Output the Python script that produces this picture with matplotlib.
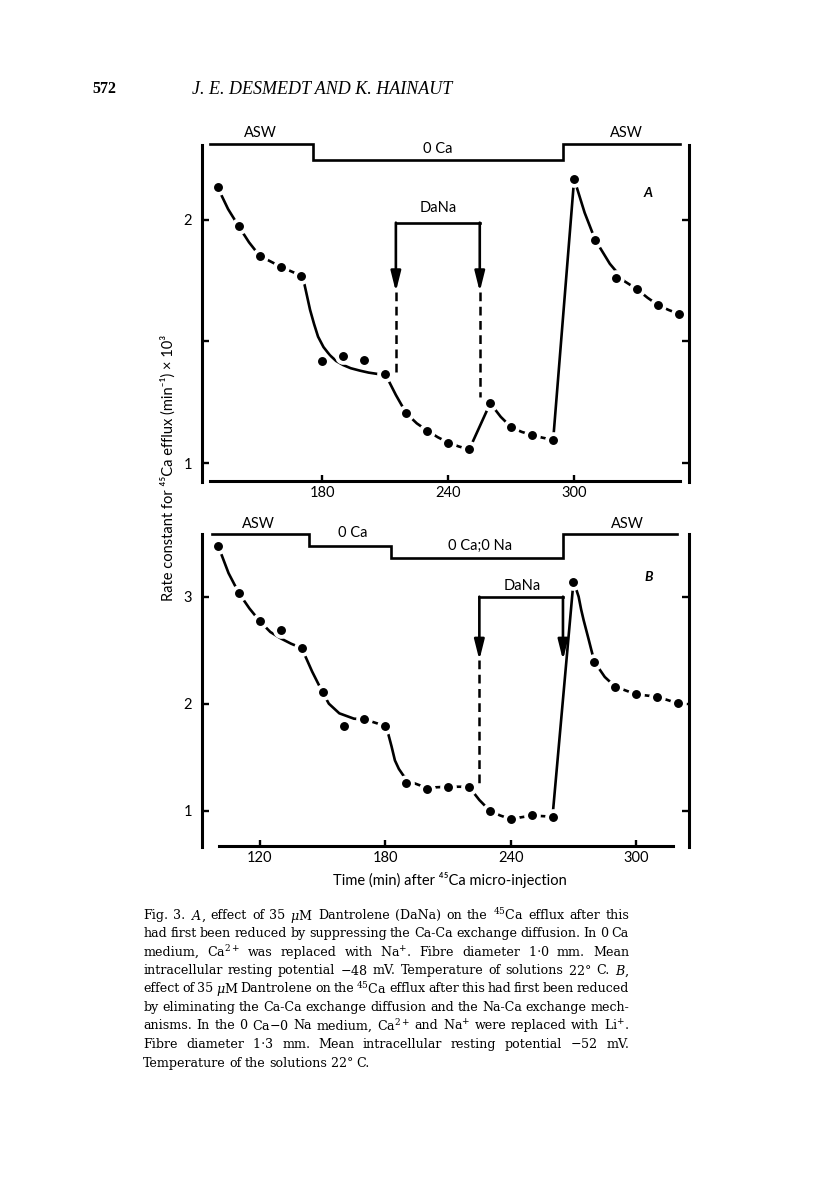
import matplotlib
matplotlib.use("Agg")
import matplotlib.pyplot as plt
from matplotlib import font_manager

plt.rcParams['font.family'] = ['Lato', 'DejaVu Sans']
plt.rcParams['mathtext.fontset'] = 'dejavuserif'

# ---------------- data : panel A ----------------
time_A = [130, 140, 150, 160, 170, 180, 190, 200, 210, 220, 230, 240, 250,
          260, 270, 280, 290, 300, 310, 320, 330, 340, 350]
rate_A = [2.135, 1.975, 1.853, 1.808, 1.770, 1.421, 1.442, 1.424, 1.365,
          1.204, 1.133, 1.084, 1.056, 1.246, 1.147, 1.115, 1.095, 2.169,
          1.919, 1.763, 1.715, 1.650, 1.613]
fit_time_A = [130, 135, 140, 145, 150, 160, 170, 171.3, 172.7, 174.1, 176,
              177.9, 180.5, 183.5, 186.5, 189.9, 193.5, 197.9, 202, 206.6,
              210, 215, 220, 225, 230, 235, 240, 245, 250, 260, 265, 270,
              275, 280, 285, 290, 300, 305, 310, 317, 324, 330, 335, 340,
              345, 350]
fit_rate_A = [2.135, 2.045, 1.975, 1.908, 1.853, 1.808, 1.770, 1.74, 1.685,
              1.63, 1.572, 1.52, 1.477, 1.444, 1.42, 1.403, 1.39, 1.38,
              1.372, 1.366, 1.365, 1.28, 1.204, 1.163, 1.133, 1.106, 1.084,
              1.068, 1.056, 1.246, 1.19, 1.147, 1.128, 1.115, 1.104, 1.095,
              2.169, 2.03, 1.919, 1.82, 1.748, 1.715, 1.68, 1.650, 1.63, 1.613]
protocol_time_A = [126.5, 175.5, 175.5, 294.7, 294.7, 350.4]
protocol_level_A = [2.313, 2.313, 2.247, 2.247, 2.313, 2.313]
dana_A = [215, 255]

# ---------------- data : panel B ----------------
time_B = [100, 110, 120, 130, 140, 150, 160, 170, 180, 190, 200, 210, 220,
          230, 240, 250, 260, 270, 280, 290, 300, 310, 320]
rate_B = [3.477, 3.032, 2.77, 2.692, 2.52, 2.106, 1.794, 1.854, 1.792,
          1.256, 1.20, 1.224, 1.224, 1.00, 0.922, 0.96, 0.944, 3.135,
          2.393, 2.159, 2.088, 2.065, 2.004]
fit_time_B = [100, 105, 110, 115, 120, 125, 130, 135, 140, 145, 150, 153,
              158, 165, 170, 180, 181.3, 183, 184.6, 186.5, 188.6, 191,
              193.4, 198.2, 200, 210, 220, 225, 230, 235, 240, 250, 260,
              270, 271.5, 272.5, 273.7, 274.9, 276.1, 277.3, 280, 285, 290,
              300, 310, 320]
fit_rate_B = [3.477, 3.22, 3.032, 2.89, 2.77, 2.67, 2.61, 2.56, 2.52, 2.3,
              2.106, 2.0, 1.91, 1.86, 1.854, 1.792, 1.726, 1.6, 1.47, 1.39,
              1.33, 1.29, 1.26, 1.225, 1.215, 1.224, 1.224, 1.1, 1.0, 0.955,
              0.922, 0.955, 0.944, 3.135, 3.06, 3.0, 2.88, 2.78, 2.69, 2.6,
              2.393, 2.25, 2.159, 2.088, 2.065, 2.004]
protocol_time_B = [96.9, 143.6, 143.6, 182.9, 182.9, 265, 265, 319.5]
protocol_level_B = [3.583, 3.583, 3.474, 3.474, 3.364, 3.364, 3.583, 3.583]
dana_B = [225, 265]

xticks_A = [180, 240, 300]
xticks_B = [120, 180, 240, 300]
yticks_A = [1, 1.5, 2]
yticklabels_A = ['1', '', '2']
yticks_B = [1, 2, 3]
yticklabels_B = ['1', '2', '3']

W, H = 816, 1192
fig = plt.figure(figsize=(W / 100, H / 100), dpi=100)
fig.patch.set_facecolor('white')


def px_axes(left, top, right, bottom):
    return fig.add_axes([left / W, 1 - bottom / H, (right - left) / W,
                         (bottom - top) / H])


LW = 1.9


def panel(ax, t, r, ft, fr, pt, pl, xlim, ylim, spine_lo, spine_hi,
          base, base_lo, base_hi, xt, yt, ytl):
    ax.set_xlim(*xlim)
    ax.set_ylim(*ylim)
    ax.patch.set_alpha(0)
    ax.plot(ft, fr, color='k', lw=LW, solid_capstyle='butt',
            solid_joinstyle='round', zorder=2)
    ax.plot(t, r, 'o', ms=12, mfc='white', mec='none', zorder=3)
    ax.plot(t, r, 'o', ms=5.4, mfc='k', mec='k', zorder=4)
    ax.plot(pt, pl, color='k', lw=LW, solid_joinstyle='miter', zorder=2)
    ax.spines['top'].set_visible(False)
    for s in ('left', 'right'):
        ax.spines[s].set_bounds(spine_lo, spine_hi)
        ax.spines[s].set_linewidth(2.2)
    ax.spines['bottom'].set_position(('data', base))
    ax.spines['bottom'].set_bounds(base_lo, base_hi)
    ax.spines['bottom'].set_linewidth(2.2)
    ax.set_xticks(xt)
    ax.set_xticklabels([str(v) for v in xt])
    ax.set_yticks(yt)
    ax.set_yticklabels(ytl)
    ax.tick_params(axis='y', direction='in', length=5, width=1.7,
                   left=True, right=True, labelleft=True, labelright=False,
                   pad=7, labelsize=10.5)
    ax.tick_params(axis='x', direction='in', length=4, width=1.7,
                   top=False, pad=4, labelsize=10.5)


def dana(ax, on, off, level, tip, dash_ends):
    ax.plot([on, off], [level, level], color='k', lw=LW,
            solid_capstyle='projecting', zorder=2)
    for x in (on, off):
        ax.annotate('', xy=(x, tip), xytext=(x, level),
                    arrowprops=dict(arrowstyle='-|>,head_length=0.8,head_width=0.2',
                                    lw=LW, color='k', mutation_scale=15,
                                    shrinkA=0, shrinkB=0), zorder=2)
    for x, end in zip((on, off), dash_ends):
        if end is not None:
            ax.plot([x, x], [tip, end], color='k', lw=1.8,
                    linestyle=(0, (3.5, 2.2)), zorder=2)


# ---------------- panel A ----------------
axA = px_axes(202, 100, 689, 490)
panel(axA, time_A, rate_A, fit_time_A, fit_rate_A, protocol_time_A,
      protocol_level_A, (122.57, 354.76), (0.8889, 2.4938), 0.922, 2.309,
      0.927, 126.5, 350.4, xticks_A, yticks_A, yticklabels_A)
dana(axA, dana_A[0], dana_A[1], 1.989, 1.705, (1.376, 1.273))
axA.text(150.2, 2.358, 'ASW', ha='center', va='center', fontsize=10.5)
axA.text(235.1, 2.292, '0 Ca', ha='center', va='center', fontsize=10.5)
axA.text(325.1, 2.358, 'ASW', ha='center', va='center', fontsize=10.5)
axA.text(235.0, 2.049, 'DaNa', ha='center', va='center', fontsize=10.5)
axA.text(335.4, 2.111, 'A', ha='center', va='center', fontsize=10,
         style='italic', weight='bold')

# ---------------- panel B ----------------
axB = px_axes(202, 520, 689, 860)
panel(axB, time_B, rate_B, fit_time_B, fit_rate_B, protocol_time_B,
      protocol_level_B, (92.3, 325.3), (0.5393, 3.7168), 0.664, 3.583,
      0.673, 100.6, 317.8, xticks_B, yticks_B, yticklabels_B)
dana(axB, dana_B[0], dana_B[1], 3.0, 2.408, (1.209, None))
axB.text(119.1, 3.68, 'ASW', ha='center', va='center', fontsize=10.5)
axB.text(164.5, 3.595, '0 Ca', ha='center', va='center', fontsize=10.5)
axB.text(225.3, 3.474, '0 Ca;0 Na', ha='center', va='center', fontsize=10.5)
axB.text(295.6, 3.68, 'ASW', ha='center', va='center', fontsize=10.5)
axB.text(245.3, 3.103, 'DaNa', ha='center', va='center', fontsize=10.5)
axB.text(306.2, 3.184, 'B', ha='center', va='center', fontsize=10,
         style='italic', weight='bold')

# axis labels
fig.text(168 / W, 1 - 468 / H,
         'Rate constant for \u2074\u2075Ca efflux (min\u207b\u00b9) \u00d7 10\u00b3',
         rotation=90, ha='center', va='center', fontsize=10.5)
fig.text(450 / W, 1 - 880 / H,
         'Time (min) after \u2074\u2075Ca micro-injection',
         ha='center', va='center', fontsize=10.5)

# ---------------- page header ----------------
fig.text(92 / W, 1 - 89 / H, '572', ha='left', va='center', fontsize=11.5,
         family=['Liberation Serif', 'DejaVu Serif'], weight='bold')
fig.text(322 / W, 1 - 89 / H, 'J. E. DESMEDT AND K. HAINAUT', ha='center',
         va='center', fontsize=13, family=['Liberation Serif', 'DejaVu Serif'],
         style='italic')

# ---------------- caption (justified) ----------------
available = {f.name for f in font_manager.fontManager.ttflist}
if 'DejaVu Serif Condensed' in available:
    SERIF = ['DejaVu Serif Condensed', 'DejaVu Serif']
else:
    SERIF = ['DejaVu Serif']

caption_lines = [
    r'Fig. 3. $\mathit{A}$, effect of 35 $\mu$M Dantrolene (DaNa) on the $^{45}$Ca efflux after this',
    r'had first been reduced by suppressing the Ca-Ca exchange diffusion. In 0 Ca',
    r'medium, Ca$^{2+}$ was replaced with Na$^{+}$. Fibre diameter 1$\cdot$0 mm. Mean',
    r'intracellular resting potential $-$48 mV. Temperature of solutions 22$\degree$ C. $\mathit{B}$,',
    r'effect of 35 $\mu$M Dantrolene on the $^{45}$Ca efflux after this had first been reduced',
    r'by eliminating the Ca-Ca exchange diffusion and the Na-Ca exchange mech-',
    r'anisms. In the 0 Ca$-$0 Na medium, Ca$^{2+}$ and Na$^{+}$ were replaced with Li$^{+}$.',
    r'Fibre diameter 1$\cdot$3 mm. Mean intracellular resting potential $-$52 mV.',
    r'Temperature of the solutions 22$\degree$ C.',
]
cap_y = [914, 932.3, 951, 969.3, 987.3, 1005.7, 1024.3, 1042.7, 1061.7]
CAP_L, CAP_R = 143.3, 629.0

renderer = fig.canvas.get_renderer()


def measure(words, fs):
    ws = []
    for w in words:
        t = fig.text(0, 0, w, fontsize=fs, family=SERIF)
        ws.append(t.get_window_extent(renderer).width)
        t.remove()
    return ws


fs = 11.0
sw = 0.2 * fs * 100 / 72   # tight word space (px)
natural = [sum(measure(l.split(' '), fs)) + sw * (len(l.split(' ')) - 1)
           for l in caption_lines[:-1]]
scale = min(1.0, (CAP_R - CAP_L) / max(natural))
fs = fs * scale * 0.998
sw = sw * scale

for i, (line, y) in enumerate(zip(caption_lines, cap_y)):
    words = line.split(' ')
    ws = measure(words, fs)
    if i < len(caption_lines) - 1:
        gap = (CAP_R - CAP_L - sum(ws)) / (len(words) - 1)
    else:
        gap = sw * 1.3
    x = CAP_L
    for w, wd in zip(words, ws):
        fig.text(x / W, 1 - y / H, w, fontsize=fs, family=SERIF,
                 ha='left', va='center_baseline')
        x += wd + gap

fig.savefig('out.png', dpi=100, facecolor='white')
